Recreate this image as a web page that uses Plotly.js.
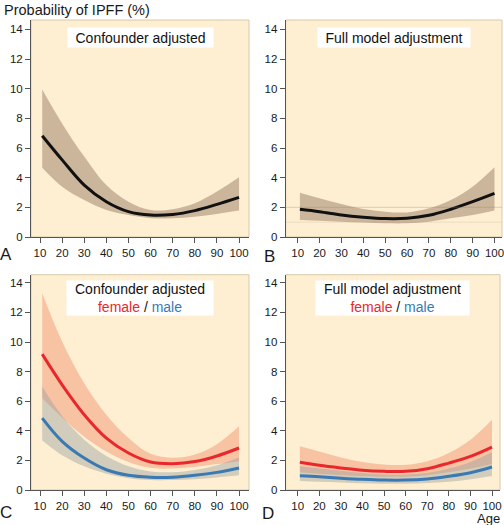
<!DOCTYPE html>
<html><head><meta charset="utf-8">
<script src="https://cdn.plot.ly/plotly-3.0.1.min.js"></script>
<style>html,body{margin:0;padding:0;background:#fff}#chart{width:504px;height:525px}</style>
</head><body><div id="chart"></div>
<script>
const age = [11, 20, 30, 40, 50, 60, 70, 80, 90, 100];

// Panel A: confounder adjusted, all
const aMean  = [6.83, 5.2, 3.5, 2.38, 1.71, 1.48, 1.52, 1.78, 2.2, 2.67];
const aUpper = [9.95, 7.66, 5.42, 3.5, 2.38, 1.82, 1.87, 2.27, 3.06, 4.02];
const aLower = [4.67, 3.39, 2.49, 1.82, 1.48, 1.27, 1.26, 1.37, 1.55, 1.78];

// Panel B: full model adjustment, all
const bMean  = [1.87, 1.71, 1.48, 1.33, 1.24, 1.26, 1.46, 1.87, 2.38, 2.94];
const bUpper = [2.99, 2.61, 2.22, 1.89, 1.71, 1.66, 1.93, 2.49, 3.39, 4.70];
const bLower = [1.15, 1.10, 1.03, 0.97, 0.92, 0.92, 1.03, 1.26, 1.48, 1.78];
const bRefLines = [1, 2];

// Panel C: confounder adjusted, female / male
const cFemMean  = [9.18, 7.11, 5.09, 3.51, 2.5, 1.89, 1.78, 1.92, 2.3, 2.84];
const cFemUpper = [13.3, 10.04, 7.22, 5.09, 3.51, 2.45, 2.18, 2.4, 3.1, 4.3];
const cFemLower = [6.2, 4.9, 3.6, 2.6, 1.9, 1.5, 1.45, 1.55, 1.75, 1.95];
const cMalMean  = [4.86, 3.29, 2.16, 1.37, 0.99, 0.86, 0.86, 0.99, 1.19, 1.49];
const cMalUpper = [7.0, 5.0, 3.4, 2.3, 1.6, 1.25, 1.2, 1.35, 1.68, 2.2];
const cMalLower = [3.35, 2.35, 1.6, 1.1, 0.8, 0.68, 0.67, 0.72, 0.85, 1.0];

// Panel D: full model adjustment, female / male
const dFemMean  = [1.87, 1.67, 1.49, 1.33, 1.26, 1.26, 1.44, 1.82, 2.27, 2.9];
const dFemUpper = [2.95, 2.6, 2.2, 1.9, 1.72, 1.7, 1.95, 2.5, 3.4, 4.75];
const dFemLower = [1.2, 1.1, 1.0, 0.95, 0.9, 0.9, 1.0, 1.2, 1.45, 1.75];
const dMalMean  = [0.97, 0.9, 0.8, 0.72, 0.67, 0.67, 0.75, 0.93, 1.17, 1.55];
const dMalUpper = [1.6, 1.45, 1.3, 1.15, 1.05, 1.05, 1.15, 1.45, 1.9, 2.55];
const dMalLower = [0.6, 0.55, 0.5, 0.45, 0.42, 0.42, 0.47, 0.55, 0.72, 0.95];

const xTicks = [10, 20, 30, 40, 50, 60, 70, 80, 90, 100];
const yTicks = [0, 2, 4, 6, 8, 10, 12, 14];
const panelTitles = ['Confounder adjusted', 'Full model adjustment', 'Confounder adjusted', 'Full model adjustment'];
const panelLetters = ['A', 'B', 'C', 'D'];

const BG = '#FEEFD2';
const ALL_BAND = '#CBB69C';
const FEM_BAND = '#F8C3A2';
const MAL_BAND = 'rgba(150,155,158,0.42)';
const RED = '#E8282C';
const BLUE = '#3A79B2';
const FONT = 'Liberation Sans, Arial, sans-serif';

const traces = [];
function band(lower, upper, color, xa, ya) {
  traces.push({x: age, y: lower, xaxis: xa, yaxis: ya, mode: 'lines', line: {width: 0, shape: 'spline'}, hoverinfo: 'skip', showlegend: false});
  traces.push({x: age, y: upper, xaxis: xa, yaxis: ya, mode: 'lines', line: {width: 0, shape: 'spline'}, fill: 'tonexty', fillcolor: color, hoverinfo: 'skip', showlegend: false});
}
function curve(y, color, xa, ya) {
  traces.push({x: age, y: y, xaxis: xa, yaxis: ya, mode: 'lines', line: {width: 3, color: color, shape: 'spline'}, showlegend: false});
}
band(aLower, aUpper, ALL_BAND, 'x', 'y');
curve(aMean, '#111', 'x', 'y');
band(bLower, bUpper, ALL_BAND, 'x2', 'y2');
curve(bMean, '#111', 'x2', 'y2');
band(cFemLower, cFemUpper, FEM_BAND, 'x3', 'y3');
band(cMalLower, cMalUpper, MAL_BAND, 'x3', 'y3');
curve(cFemMean, RED, 'x3', 'y3');
curve(cMalMean, BLUE, 'x3', 'y3');
band(dFemLower, dFemUpper, FEM_BAND, 'x4', 'y4');
band(dMalLower, dMalUpper, MAL_BAND, 'x4', 'y4');
curve(dFemMean, RED, 'x4', 'y4');
curve(dMalMean, BLUE, 'x4', 'y4');

const TICKFONT = {family: FONT, size: 11.5, color: '#1a1a1a'};
function xax(domain, range, anchor) {
  return {domain: domain, range: range, anchor: anchor, tickvals: xTicks, ticks: 'outside', ticklen: 5, tickwidth: 1,
    tickcolor: '#555', showline: true, linecolor: '#555', linewidth: 1, showgrid: false, zeroline: false,
    tickfont: TICKFONT, ticklabeloverflow: 'allow', fixedrange: true};
}
function yax(domain, range, anchor) {
  return {domain: domain, range: range, anchor: anchor, tickvals: yTicks, ticks: 'outside', ticklen: 5, tickwidth: 1,
    tickcolor: '#555', showline: true, linecolor: '#555', linewidth: 1, showgrid: false, zeroline: false,
    tickfont: TICKFONT, fixedrange: true};
}
const W = 504, H = 525;
const dxA = [31 / W, 249 / W], dxB = [285.7 / W, 502 / W], dxD = [285.7 / W, 500 / W];
const dyTop = [(H - 237) / H, (H - 20) / H], dyBot = [(H - 490) / H, (H - 274.7) / H];

const shapes = [];
const plots = [['x', 'y'], ['x2', 'y2'], ['x3', 'y3'], ['x4', 'y4']];
plots.forEach(p => {
  shapes.push({type: 'rect', xref: p[0] + ' domain', yref: p[1] + ' domain', x0: 0, x1: 1, y0: 0, y1: 1,
    fillcolor: BG, line: {color: '#D9C9AA', width: 1}, layer: 'below'});
});
bRefLines.forEach(v => {
  shapes.push({type: 'line', xref: 'x2 domain', yref: 'y2', x0: 0, x1: 1, y0: v, y1: v,
    line: {color: 'rgba(150,125,95,' + (v === 2 ? 0.3 : 0.15) + ')', width: 1}, layer: 'above'});
});

const annotations = [];
function box(xref, yref, text, w, h) {
  annotations.push({xref: xref + ' domain', yref: yref + ' domain', x: 0.5, y: 1, yanchor: 'top', xanchor: 'center',
    yshift: -7, text: text, showarrow: false, bgcolor: '#FFFFFF', width: w, height: h, borderpad: 0,
    font: {family: FONT, size: 14, color: '#111'}});
}
box('x', 'y', panelTitles[0], 145, 19);
box('x2', 'y2', panelTitles[1], 152, 19);
box('x3', 'y3', panelTitles[2] + '<br><span style="color:' + RED + '">female</span> / <span style="color:' + BLUE + '">male</span>', 146, 34);
box('x4', 'y4', panelTitles[3] + '<br><span style="color:' + RED + '">female</span> / <span style="color:' + BLUE + '">male</span>', 153, 34);
annotations[2].yshift = -5; annotations[3].yshift = -5;

annotations.push({xref: 'paper', yref: 'paper', x: 2 / W, y: 1 - 10 / H, xanchor: 'left', yanchor: 'middle',
  text: 'Probability of IPFF (%)', showarrow: false, font: {family: FONT, size: 14.5, color: '#1a1a1a'}});
annotations.push({xref: 'paper', yref: 'paper', x: 502 / W, y: 1 - 518.5 / H, xanchor: 'right', yanchor: 'middle',
  text: 'Age', showarrow: false, font: {family: FONT, size: 13, color: '#1a1a1a'}});
const letterPos = [[6, 254], [269, 256], [6, 512], [268, 513]];
panelLetters.forEach((l, i) => {
  annotations.push({xref: 'paper', yref: 'paper', x: letterPos[i][0] / W, y: 1 - letterPos[i][1] / H, xanchor: 'center', yanchor: 'middle',
    text: l, showarrow: false, font: {family: FONT, size: 17, color: '#1a1a1a'}});
});

const layout = {
  width: W, height: H, margin: {l: 0, r: 0, t: 0, b: 0}, paper_bgcolor: '#fff', plot_bgcolor: 'rgba(0,0,0,0)',
  showlegend: false, font: {family: FONT},
  xaxis: xax(dxA, [5.93, 104.5], 'y'), yaxis: yax(dyTop, [0, 14.63], 'x'),
  xaxis2: xax(dxB, [4.51, 103.43], 'y2'), yaxis2: yax(dyTop, [0, 14.63], 'x2'),
  xaxis3: xax(dxA, [5.93, 104.5], 'y3'), yaxis3: yax(dyBot, [0, 14.55], 'x3'),
  xaxis4: xax(dxD, [4.44, 103.7], 'y4'), yaxis4: yax(dyBot, [0, 14.55], 'x4'),
  shapes: shapes, annotations: annotations
};
Plotly.newPlot('chart', traces, layout, {displayModeBar: false, staticPlot: true});
</script></body></html>
